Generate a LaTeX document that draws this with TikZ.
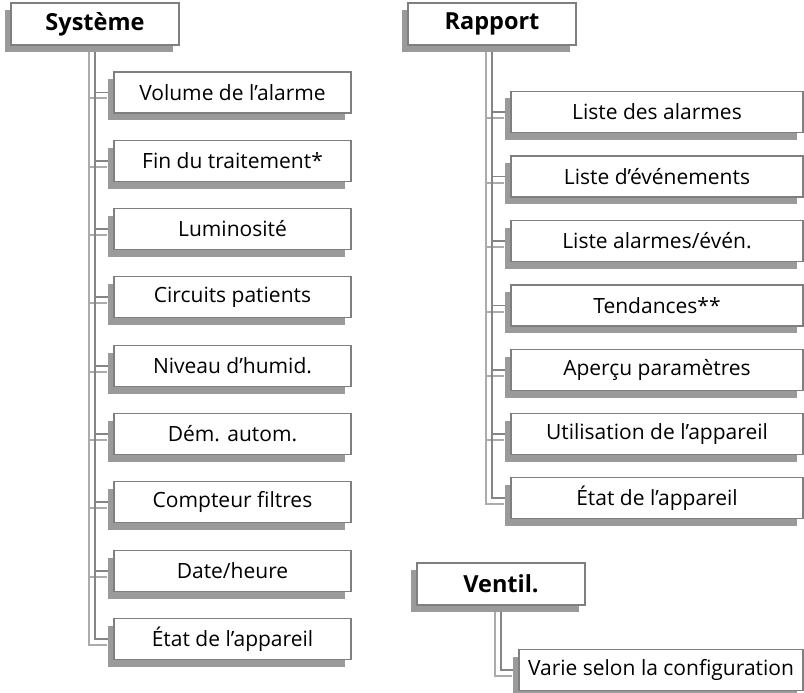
\documentclass[tikz,border=0pt]{standalone}
\usepackage{fontspec}
\setmainfont{Open Sans}
\usetikzlibrary{shadows, backgrounds}
\definecolor{boxline}{HTML}{7F7F7F}
\definecolor{boxshade}{HTML}{9A9A9A}
\definecolor{linkdark}{HTML}{858585}
\definecolor{linklight}{HTML}{ABABAB}
\tikzset{
  menu/.style = {
    rectangle, draw=boxline, line width=1.8pt, fill=white,
    minimum width=168pt, minimum height=42pt, inner sep=0pt,
    font=\fontsize{23.5}{26}\selectfont\bfseries,
    drop shadow={shadow xshift=-6pt, shadow yshift=-7pt,
                 opacity=1, fill=boxshade}
  },
  item/.style = {
    rectangle, draw=boxline, line width=1.8pt, fill=white,
    minimum height=41pt, inner sep=0pt,
    font=\fontsize{21}{24}\selectfont,
    drop shadow={shadow xshift=-6pt, shadow yshift=-7pt,
                 opacity=1, fill=boxshade}
  },
  sysitem/.style = { item, minimum width=237pt },
  repitem/.style = { item, minimum width=292pt },
  venitem/.style = { item, minimum width=284pt },
  edge/.style = {
    draw=linkdark, line width=1.6pt,
    preaction={draw=linklight, line width=2pt,
               transform canvas={xshift=-6pt, yshift=-6pt}}
  }
}

\begin{document}
\begin{tikzpicture}[x=1pt, y=-1pt]

    \useasboundingbox (0,0) rectangle (804,693);

    % ------------------------------------------------------------- Menus
    \node [menu] (systeme) at (95,  24)  {Système};
    \node [menu] (rapport) at (492, 24)  {Rapport};
    \node [menu] (ventil)  at (501, 584) {Ventil.};

    % ---------------------------------------------------- Systeme entries
    \node [sysitem] (s_volume)  at (232.5,  92.5) {Volume de l’alarme};
    \node [sysitem] (s_fin)     at (232.5, 161)   {Fin du traitement*};
    \node [sysitem] (s_lumin)   at (232.5, 229)   {Luminosité};
    \node [sysitem] (s_circ)    at (232.5, 297)   {Circuits patients};
    \node [sysitem] (s_humid)   at (232.5, 366)   {Niveau d’humid.};
    \node [sysitem] (s_dem)     at (232.5, 434)   {Dém. autom.};
    \node [sysitem] (s_filtres) at (232.5, 502)   {Compteur filtres};
    \node [sysitem] (s_date)    at (232.5, 571)   {Date/heure};
    \node [sysitem] (s_etat)    at (232.5, 639)   {État de l’appareil};

    % ---------------------------------------------------- Rapport entries
    \node [repitem] (r_alarmes) at (657, 112)   {Liste des alarmes};
    \node [repitem] (r_events)  at (657, 176.5) {Liste d’événements};
    \node [repitem] (r_alev)    at (657, 241)   {Liste alarmes/évén.};
    \node [repitem] (r_tend)    at (657, 305.5) {Tendances**};
    \node [repitem] (r_param)   at (657, 370)   {Aperçu paramètres};
    \node [repitem] (r_util)    at (657, 434)   {Utilisation de l’appareil};
    \node [repitem] (r_etat)    at (657, 498)   {État de l’appareil};

    % ----------------------------------------------------- Ventil. entry
    \node [venitem] (v_config)  at (661, 670)   {Varie selon la configuration};

    % ----------------------------------------- Connectors (behind the boxes)
    \begin{scope}[on background layer]

      % -------- systeme
      \draw [edge] (systeme.south) |- (s_volume.west);
      \draw [edge] (systeme.south) |- (s_fin.west);
      \draw [edge] (systeme.south) |- (s_lumin.west);
      \draw [edge] (systeme.south) |- (s_circ.west);
      \draw [edge] (systeme.south) |- (s_humid.west);
      \draw [edge] (systeme.south) |- (s_dem.west);
      \draw [edge] (systeme.south) |- (s_filtres.west);
      \draw [edge] (systeme.south) |- (s_date.west);
      \draw [edge] (systeme.south) |- (s_etat.west);

      % -------- rapport
      \draw [edge] (rapport.south) |- (r_alarmes.west);
      \draw [edge] (rapport.south) |- (r_events.west);
      \draw [edge] (rapport.south) |- (r_alev.west);
      \draw [edge] (rapport.south) |- (r_tend.west);
      \draw [edge] (rapport.south) |- (r_param.west);
      \draw [edge] (rapport.south) |- (r_util.west);
      \draw [edge] (rapport.south) |- (r_etat.west);

      % -------- ventil.
      \draw [edge] (ventil.south) |- (v_config.west);

    \end{scope}

\end{tikzpicture}
\end{document}
